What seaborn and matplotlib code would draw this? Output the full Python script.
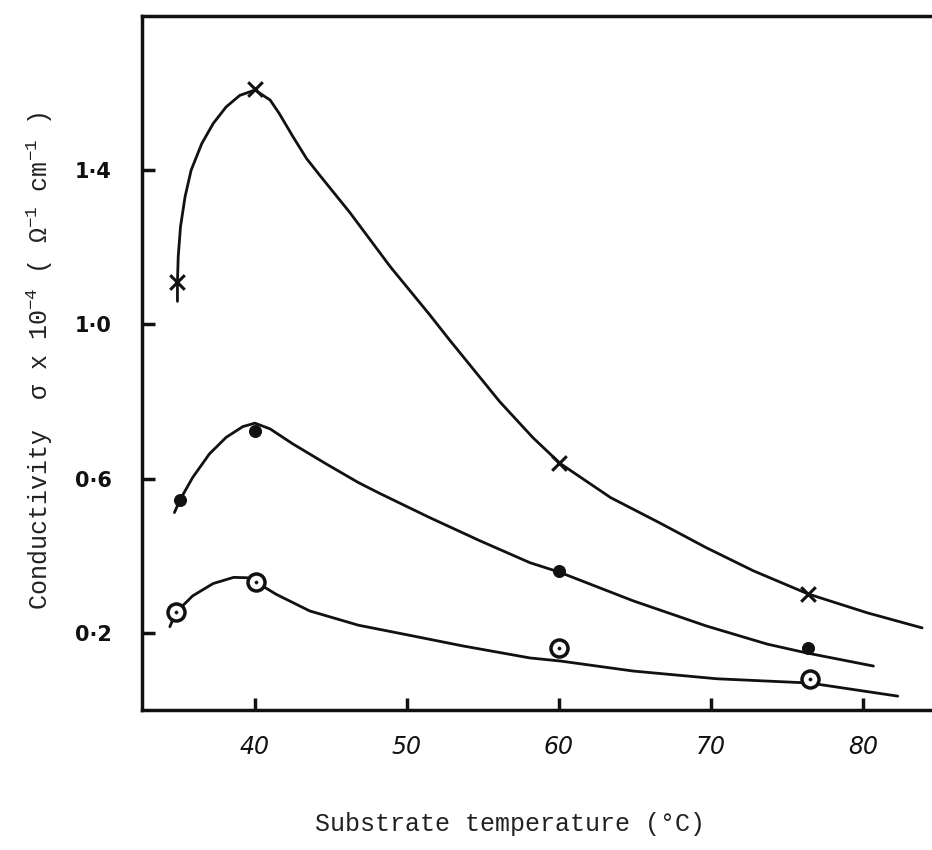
import pandas as pd
import seaborn as sns
import matplotlib.pyplot as plt

# -------------------------------
# Data
# -------------------------------
# measured points (x = cross, dot = filled circle, ring = open circle)
temp_cross = [34.85, 40.0, 60.0, 76.4]
sig_cross = [1.11, 1.61, 0.64, 0.30]
temp_dot = [35.1, 40.0, 60.0, 76.4]
sig_dot = [0.545, 0.723, 0.36, 0.16]
temp_ring = [34.8, 40.05, 60.0, 76.5]
sig_ring = [0.253, 0.332, 0.16, 0.08]

# hand drawn curves
curve_cross_t = [34.9, 34.9, 34.95, 35.1, 35.4, 35.8, 36.5, 37.25, 38.1, 39.0, 40.0, 41.0,
                 41.6, 42.5, 43.4, 44.2, 46.25, 48.9, 51.5, 52.8, 56.1, 58.3, 60.1, 63.4,
                 66.6, 69.7, 72.8, 76.4, 80.3, 83.9]
curve_cross_s = [1.06, 1.11, 1.175, 1.253, 1.331, 1.40, 1.469, 1.521, 1.564, 1.594, 1.608, 1.582,
                 1.547, 1.487, 1.43, 1.39, 1.29, 1.15, 1.025, 0.96, 0.80, 0.706, 0.639, 0.551,
                 0.486, 0.421, 0.361, 0.301, 0.252, 0.213]
curve_dot_t = [34.7, 35.07, 35.9, 37.0, 38.1, 39.2, 40.0, 41.0, 42.5, 44.7, 46.8, 48.2, 51.5,
               54.8, 58.1, 60.0, 64.9, 69.7, 73.7, 76.3, 80.7]
curve_dot_s = [0.512, 0.545, 0.603, 0.664, 0.707, 0.735, 0.744, 0.729, 0.690, 0.638, 0.590,
               0.562, 0.499, 0.439, 0.382, 0.358, 0.283, 0.218, 0.171, 0.148, 0.114]
curve_ring_t = [34.4, 34.8, 35.9, 37.25, 38.6, 39.5, 40.07, 41.4, 43.6, 46.8, 50.4, 53.7,
                58.1, 60.1, 64.9, 70.4, 76.5, 82.3]
curve_ring_s = [0.216, 0.253, 0.296, 0.328, 0.344, 0.343, 0.332, 0.300, 0.257, 0.220, 0.192,
                0.166, 0.135, 0.127, 0.101, 0.081, 0.070, 0.036]

xticks = [40, 50, 60, 70, 80]
yticks = [0.2, 0.6, 1.0, 1.4]
ytick_labels = ["0·2", "0·6", "1·0", "1·4"]

# -------------------------------
# Style
# -------------------------------
sns.set_style("ticks")
plt.rcParams["font.family"] = ["Liberation Mono", "DejaVu Sans"]
plt.rcParams["mathtext.fontset"] = "custom"
plt.rcParams["mathtext.rm"] = "Liberation Mono"
plt.rcParams["mathtext.it"] = "Liberation Mono"

fig = plt.figure(figsize=(9.32, 8.5), dpi=100)
ax = fig.add_axes([0.1524, 0.1647, 0.8712, 0.8165])

ink = "#111111"

# -------------------------------
# Curves
# -------------------------------
curves = [(curve_cross_t, curve_cross_s), (curve_dot_t, curve_dot_s), (curve_ring_t, curve_ring_s)]
for t, s in curves:
    df = pd.DataFrame({"t": t, "s": s})
    sns.lineplot(data=df, x="t", y="s", sort=False, estimator=None, color=ink, lw=2.0, ax=ax)

# -------------------------------
# Markers
# -------------------------------
sns.scatterplot(x=temp_cross, y=sig_cross, marker="x", s=110, color=ink, linewidth=2.2, ax=ax, zorder=5)
sns.scatterplot(x=temp_dot, y=sig_dot, marker="o", s=75, color=ink, edgecolor=ink, ax=ax, zorder=5)
sns.scatterplot(x=temp_ring, y=sig_ring, marker="o", s=150, facecolor="white", edgecolor=ink,
                linewidth=2.5, ax=ax, zorder=5)
sns.scatterplot(x=temp_ring, y=sig_ring, marker="o", s=6, color=ink, edgecolor=ink, ax=ax, zorder=6)

# -------------------------------
# Axes
# -------------------------------
ax.set_xlim(32.57, 86.0)
ax.set_ylim(0, 1.8)
ax.set_xticks(xticks)
ax.set_xticklabels([str(v) for v in xticks], family="DejaVu Sans", style="italic", fontsize=17)
ax.set_yticks(yticks)
ax.set_yticklabels(ytick_labels, family="DejaVu Sans", fontweight="bold", fontsize=15)
ax.tick_params(axis="x", direction="in", length=9, width=2.5, pad=18, colors=ink)
ax.tick_params(axis="y", direction="in", length=9, width=2.5, pad=22, colors=ink)

for side in ["left", "top", "bottom"]:
    ax.spines[side].set_linewidth(2.5)
    ax.spines[side].set_color(ink)
ax.spines["right"].set_visible(False)

ax.set_xlabel("Substrate temperature (°C)", fontsize=18, color="#222222")
ax.set_ylabel("Conductivity  σ x 10$^{-4}$ ( Ω$^{-1}$ cm$^{-1}$ )", fontsize=18, color="#222222")
ax.xaxis.set_label_coords(0.453, -0.147)
ax.yaxis.set_label_coords(-0.107, 0.504)

plt.savefig("out.png", dpi=100)
plt.close()
